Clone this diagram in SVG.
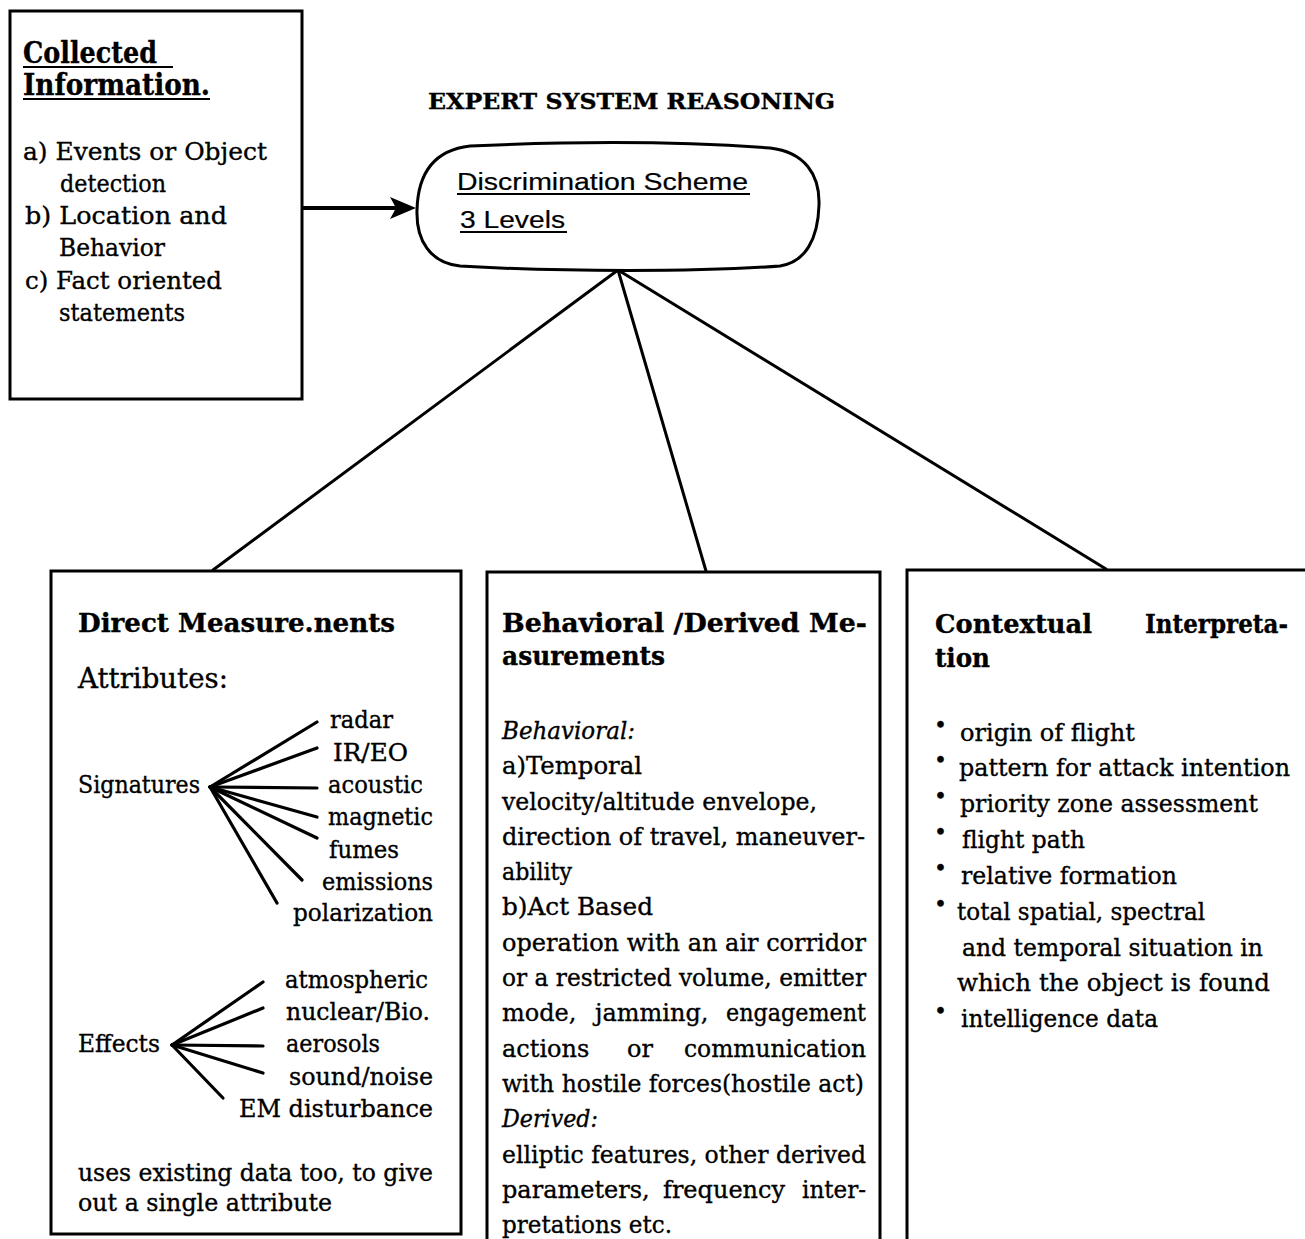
<svg xmlns="http://www.w3.org/2000/svg" width="1305" height="1239" viewBox="0 0 1305 1239">
<style>
  .box{fill:#fff;stroke:#000;stroke-width:3}
  .ln{stroke:#000;stroke-width:3;fill:none;stroke-linecap:round}
  .fan{stroke:#000;stroke-width:3.2;stroke-linecap:round}
  .ul{stroke:#000;stroke-width:2.2}
  text{font-family:"DejaVu Serif","Liberation Serif",serif;fill:#000;stroke:#000;stroke-width:0.35}
  .t{font-size:24px}
  .ti{font-size:25px}
  .h{font-size:26px;font-weight:bold}
  .h2{font-size:29px;font-weight:bold}
  .big{font-size:28px}
  .it{font-style:italic}
  .sans{font-family:"Liberation Sans",Arial,sans-serif;font-size:23px;stroke-width:0.2}
  .bul{font-size:22px}
</style>
<defs>
  <marker id="head" markerUnits="userSpaceOnUse" markerWidth="26" markerHeight="22" viewBox="0 0 26 22" refX="5" refY="11" orient="auto">
    <path d="M0,0 L26,11 L0,22 L6,11 Z" fill="#000"/>
  </marker>
</defs>
<rect width="1305" height="1239" fill="#fff"/>

<!-- connectors -->
<g id="connectors">
  <line class="ln" x1="302" y1="208" x2="395" y2="208" style="stroke-width:4" marker-end="url(#head)"/>
  <line class="ln" x1="618" y1="270" x2="213" y2="570"/>
  <line class="ln" x1="618" y1="270" x2="706" y2="571"/>
  <line class="ln" x1="618" y1="270" x2="1106" y2="569"/>
</g>

<!-- heading -->
<g id="heading">
  <text class="h" x="428" y="109" style="font-size:22px" textLength="407" lengthAdjust="spacingAndGlyphs">EXPERT SYSTEM REASONING</text>
</g>

<!-- collected information -->
<g id="collected">
  <rect class="box" x="10" y="11" width="292" height="388"/>
  <text class="h2" x="23" y="63" textLength="134" lengthAdjust="spacingAndGlyphs">Collected</text>
  <line class="ul" x1="23" y1="67" x2="173" y2="67"/>
  <text class="h2" x="23" y="95" textLength="187" lengthAdjust="spacingAndGlyphs">Information.</text>
  <line class="ul" x1="23" y1="99" x2="210" y2="99"/>
  <text class="ti" x="23" y="160" textLength="244" lengthAdjust="spacingAndGlyphs">a) Events or Object</text>
  <text class="ti" x="60" y="192" textLength="106" lengthAdjust="spacingAndGlyphs">detection</text>
  <text class="ti" x="25" y="224" textLength="202" lengthAdjust="spacingAndGlyphs">b) Location and</text>
  <text class="ti" x="59" y="256" textLength="106" lengthAdjust="spacingAndGlyphs">Behavior</text>
  <text class="ti" x="25" y="289" textLength="197" lengthAdjust="spacingAndGlyphs">c) Fact oriented</text>
  <text class="ti" x="59" y="321" textLength="126" lengthAdjust="spacingAndGlyphs">statements</text>
</g>

<!-- discrimination scheme -->
<g id="discrimination">
  <path class="box" d="M470,146 C600,140 690,142 770,148 C805,152 820,175 819,205 C818,240 805,262 780,266 C700,272 560,272 460,266 C430,263 416,240 417,210 C418,172 435,150 470,146 Z"/>
  <text class="sans" x="457" y="190" textLength="291" lengthAdjust="spacingAndGlyphs">Discrimination Scheme</text>
  <line class="ul" x1="457" y1="194" x2="750" y2="194"/>
  <text class="sans" x="460" y="228" textLength="105" lengthAdjust="spacingAndGlyphs">3 Levels</text>
  <line class="ul" x1="460" y1="232" x2="567" y2="232"/>
</g>

<!-- direct measurements -->
<g id="direct">
  <rect class="box" x="51" y="571" width="410" height="663"/>
  <text class="h" x="78" y="632" textLength="317" lengthAdjust="spacingAndGlyphs">Direct Measure.nents</text>
  <text class="big" x="78" y="688" textLength="150" lengthAdjust="spacingAndGlyphs">Attributes:</text>
  <text class="t" x="78" y="793" textLength="122" lengthAdjust="spacingAndGlyphs">Signatures</text>
  <g class="fan">
    <line x1="210" y1="787" x2="317" y2="722"/>
    <line x1="210" y1="787" x2="317" y2="748"/>
    <line x1="210" y1="787" x2="317" y2="788"/>
    <line x1="210" y1="787" x2="317" y2="817"/>
    <line x1="210" y1="787" x2="317" y2="838"/>
    <line x1="210" y1="787" x2="302" y2="880"/>
    <line x1="210" y1="787" x2="277" y2="903"/>
  </g>
  <text class="t" x="330" y="728" textLength="63" lengthAdjust="spacingAndGlyphs">radar</text>
  <text class="t" x="333" y="761" textLength="75" lengthAdjust="spacingAndGlyphs">IR/EO</text>
  <text class="t" x="328" y="793" textLength="95" lengthAdjust="spacingAndGlyphs">acoustic</text>
  <text class="t" x="328" y="825" textLength="105" lengthAdjust="spacingAndGlyphs">magnetic</text>
  <text class="t" x="329" y="858" textLength="70" lengthAdjust="spacingAndGlyphs">fumes</text>
  <text class="t" x="322" y="890" textLength="111" lengthAdjust="spacingAndGlyphs">emissions</text>
  <text class="t" x="293" y="921" textLength="140" lengthAdjust="spacingAndGlyphs">polarization</text>

  <text class="t" x="78" y="1052" textLength="82" lengthAdjust="spacingAndGlyphs">Effects</text>
  <g class="fan">
    <line x1="172" y1="1045" x2="263" y2="982"/>
    <line x1="172" y1="1045" x2="263" y2="1008"/>
    <line x1="172" y1="1045" x2="263" y2="1046"/>
    <line x1="172" y1="1045" x2="263" y2="1073"/>
    <line x1="172" y1="1045" x2="223" y2="1098"/>
  </g>
  <text class="t" x="285" y="988" textLength="143" lengthAdjust="spacingAndGlyphs">atmospheric</text>
  <text class="t" x="286" y="1020" textLength="144" lengthAdjust="spacingAndGlyphs">nuclear/Bio.</text>
  <text class="t" x="286" y="1052" textLength="94" lengthAdjust="spacingAndGlyphs">aerosols</text>
  <text class="t" x="289" y="1085" textLength="144" lengthAdjust="spacingAndGlyphs">sound/noise</text>
  <text class="t" x="239" y="1117" textLength="194" lengthAdjust="spacingAndGlyphs">EM disturbance</text>
  <text class="t" x="78" y="1181" textLength="355" lengthAdjust="spacingAndGlyphs">uses existing data too, to give</text>
  <text class="t" x="78" y="1211" textLength="254" lengthAdjust="spacingAndGlyphs">out a single attribute</text>
</g>

<!-- behavioral / derived measurements (box runs past the lower edge) -->
<g id="behavioral">
  <path class="box" d="M487,1250 V572 H880 V1250"/>
  <text class="h" x="502" y="632" textLength="365" lengthAdjust="spacingAndGlyphs">Behavioral /Derived Me-</text>
  <text class="h" x="502" y="665" textLength="163" lengthAdjust="spacingAndGlyphs">asurements</text>
  <text class="t it" x="502" y="739" textLength="133" lengthAdjust="spacingAndGlyphs">Behavioral:</text>
  <text class="t" x="502" y="774" textLength="140" lengthAdjust="spacingAndGlyphs">a)Temporal</text>
  <text class="t" x="502" y="810" textLength="315" lengthAdjust="spacingAndGlyphs">velocity/altitude envelope,</text>
  <text class="t" x="502" y="845" textLength="363" lengthAdjust="spacingAndGlyphs">direction of travel, maneuver-</text>
  <text class="t" x="502" y="880" textLength="70" lengthAdjust="spacingAndGlyphs">ability</text>
  <text class="t" x="502" y="915" textLength="151" lengthAdjust="spacingAndGlyphs">b)Act Based</text>
  <text class="t" x="502" y="951" textLength="364" lengthAdjust="spacingAndGlyphs">operation with an air corridor</text>
  <text class="t" x="502" y="986" textLength="364" lengthAdjust="spacingAndGlyphs">or a restricted volume, emitter</text>
  <text class="t" x="502" y="1021">mode,</text>
  <text class="t" x="595" y="1021">jamming,</text>
  <text class="t" x="726" y="1021" textLength="140" lengthAdjust="spacingAndGlyphs">engagement</text>
  <text class="t" x="502" y="1057">actions</text>
  <text class="t" x="627" y="1057">or</text>
  <text class="t" x="684" y="1057" textLength="182" lengthAdjust="spacingAndGlyphs">communication</text>
  <text class="t" x="502" y="1092" textLength="362" lengthAdjust="spacingAndGlyphs">with hostile forces(hostile act)</text>
  <text class="t it" x="502" y="1127" textLength="96" lengthAdjust="spacingAndGlyphs">Derived:</text>
  <text class="t" x="502" y="1163" textLength="364" lengthAdjust="spacingAndGlyphs">elliptic features, other derived</text>
  <text class="t" x="502" y="1198">parameters,</text>
  <text class="t" x="663" y="1198">frequency</text>
  <text class="t" x="802" y="1198" textLength="64" lengthAdjust="spacingAndGlyphs">inter-</text>
  <text class="t" x="502" y="1233" textLength="170" lengthAdjust="spacingAndGlyphs">pretations etc.</text>
</g>

<!-- contextual interpretation (box runs past the right edge) -->
<g id="contextual">
  <path class="box" d="M907,1250 V570 H1320"/>
  <text class="h" x="935" y="633" textLength="157" lengthAdjust="spacingAndGlyphs">Contextual</text>
  <text class="h" x="1145" y="633" textLength="143" lengthAdjust="spacingAndGlyphs">Interpreta-</text>
  <text class="h" x="935" y="667" textLength="55" lengthAdjust="spacingAndGlyphs">tion</text>
  <g class="bul">
    <text x="934" y="733">•</text>
    <text x="934" y="768">•</text>
    <text x="934" y="804">•</text>
    <text x="934" y="840">•</text>
    <text x="934" y="876">•</text>
    <text x="934" y="912">•</text>
    <text x="934" y="1019">•</text>
  </g>
  <text class="t" x="960" y="741" textLength="175" lengthAdjust="spacingAndGlyphs">origin of flight</text>
  <text class="t" x="959" y="776" textLength="331" lengthAdjust="spacingAndGlyphs">pattern for attack intention</text>
  <text class="t" x="960" y="812" textLength="298" lengthAdjust="spacingAndGlyphs">priority zone assessment</text>
  <text class="t" x="962" y="848" textLength="123" lengthAdjust="spacingAndGlyphs">flight path</text>
  <text class="t" x="961" y="884" textLength="216" lengthAdjust="spacingAndGlyphs">relative formation</text>
  <text class="t" x="957" y="920" textLength="248" lengthAdjust="spacingAndGlyphs">total spatial, spectral</text>
  <text class="t" x="962" y="956" textLength="301" lengthAdjust="spacingAndGlyphs">and temporal situation in</text>
  <text class="t" x="957" y="991" textLength="313" lengthAdjust="spacingAndGlyphs">which the object is found</text>
  <text class="t" x="961" y="1027" textLength="197" lengthAdjust="spacingAndGlyphs">intelligence data</text>
</g>
</svg>
